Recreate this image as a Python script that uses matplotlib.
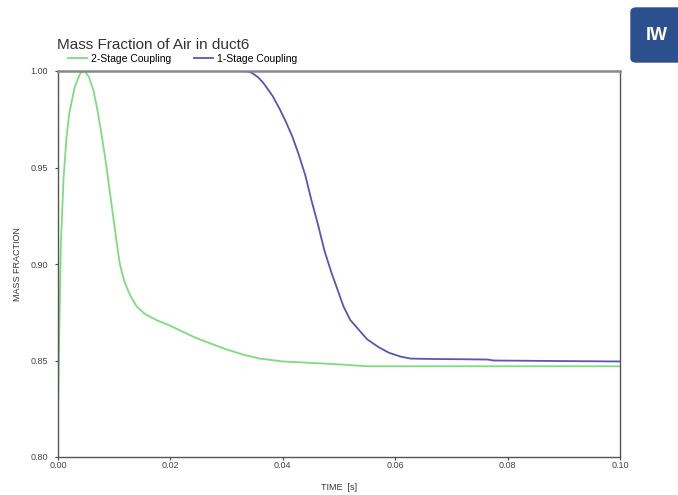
import matplotlib.pyplot as plt
from matplotlib.patches import FancyBboxPatch

plt.rcParams['font.family'] = ['Liberation Sans', 'DejaVu Sans']

# 2-Stage Coupling (green)
t_two = [0.0, 0.0002, 0.0005, 0.001, 0.0015, 0.002, 0.003, 0.004, 0.0047,
         0.0055, 0.0063, 0.007, 0.0077, 0.0085, 0.0092, 0.0098, 0.0104,
         0.011, 0.0118, 0.0128, 0.014, 0.0155, 0.0175, 0.02, 0.0243, 0.0297,
         0.033, 0.0359, 0.04, 0.0435, 0.05, 0.055, 0.07, 0.085, 0.1]
mf_two = [0.823, 0.86, 0.91, 0.945, 0.965, 0.978, 0.992, 0.999, 1.0,
          0.997, 0.99, 0.98, 0.968, 0.953, 0.938, 0.925, 0.912,
          0.900, 0.891, 0.884, 0.878, 0.874, 0.871, 0.868, 0.862, 0.856,
          0.853, 0.851, 0.8495, 0.849, 0.848, 0.847, 0.847, 0.847, 0.847]

# 1-Stage Coupling (blue)
t_one = [0.032, 0.0335, 0.0345, 0.0355, 0.0365, 0.0382, 0.0395, 0.0405,
         0.0417, 0.0428, 0.044, 0.0451, 0.0463, 0.0474, 0.0486, 0.0497,
         0.0508, 0.052, 0.0535, 0.055, 0.057, 0.0589, 0.061, 0.0627, 0.066,
         0.0704, 0.0765, 0.0775, 0.09, 0.1]
mf_one = [1.0, 1.0, 0.999, 0.997, 0.994, 0.987, 0.98, 0.974,
          0.966, 0.957, 0.946, 0.933, 0.92, 0.907, 0.896, 0.887,
          0.878, 0.871, 0.866, 0.861, 0.857, 0.854, 0.852, 0.851, 0.8508,
          0.8507, 0.8505, 0.850, 0.8497, 0.8495]

x_ticks = [0.0, 0.02, 0.04, 0.06, 0.08, 0.10]
y_ticks = [0.80, 0.85, 0.90, 0.95, 1.00]

fig = plt.figure(figsize=(6.78, 4.95), dpi=100)
ax = fig.add_axes([58 / 678, 1 - 457 / 495, 562 / 678, 386 / 495])

ax.plot(t_two, mf_two, color='#7ddc7d', lw=1.3, label='2-Stage Coupling')
ax.plot(t_one, mf_one, color='#5656b8', lw=1.3, label='1-Stage Coupling')

ax.set_xlim(0, 0.1)
ax.set_ylim(0.8, 1.0)
ax.set_xticks(x_ticks)
ax.set_yticks(y_ticks)
ax.set_xticklabels([f'{v:.2f}' for v in x_ticks])
ax.set_yticklabels([f'{v:.2f}' for v in y_ticks])
ax.tick_params(labelsize=6.5, colors='#444444', length=2, width=0.8)
ax.tick_params(axis='y', pad=5)
ax.tick_params(axis='x', pad=1)
for s in ax.spines.values():
    s.set_color('#555555')
    s.set_linewidth(1.0)
ax.spines['top'].set_color('#888888')
ax.spines['top'].set_linewidth(1.8)

ax.set_xlabel('TIME  [s]', fontsize=6.5, color='#333333', labelpad=9)
ax.set_ylabel('MASS FRACTION', fontsize=6.5, color='#333333', labelpad=6)

fig.text(57 / 678, 1 - 45 / 495, 'Mass Fraction of Air in duct6',
         fontsize=11, color='#333333', va='center', ha='left')
fig.legend(loc='center left', bbox_to_anchor=(68 / 678, 1 - 59 / 495),
           ncol=2, frameon=False, fontsize=7.5, handlelength=1.8,
           columnspacing=2.2, handletextpad=0.4, borderaxespad=0,
           borderpad=0)

# logo box in the top right corner
fig.patches.append(FancyBboxPatch((631 / 678, 1 - 62 / 495), 60 / 678, 54 / 495,
                                  boxstyle='round,pad=0,rounding_size=0.008',
                                  transform=fig.transFigure, color='#2c4f8e'))
fig.text(646 / 678, 1 - 36 / 495, 'IW', fontsize=13, fontweight='bold',
         color='white', ha='left', va='center')

fig.savefig('out.png', dpi=100)
